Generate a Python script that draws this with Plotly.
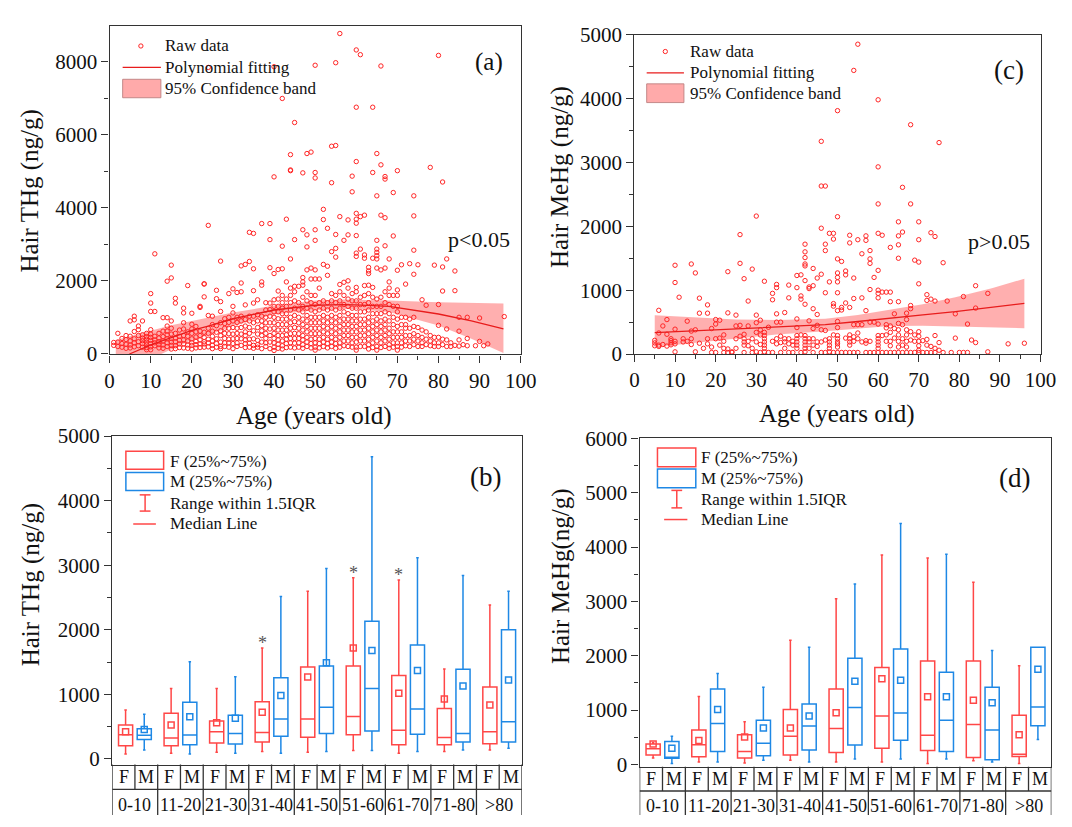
import plotly.graph_objects as go

FONT = "Liberation Serif, Times New Roman, serif"
W, H = 1072, 827

# ---------------------------------------------------------------- data
# hair THg (ng/g) of individual samples, grouped by age (years)
thg_raw = [
    (1, [310, 230]), (2, [560, 320, 200]), (3, [420, 280, 180]), (4, [500, 390, 260, 150]),
    (5, [900, 480, 350, 240, 160]), (6, [1030, 930, 610, 410, 300, 190]),
    (7, [760, 660, 500, 330, 220]), (8, [900, 520, 430, 360, 280, 180]),
    (9, [560, 470, 400, 320, 250, 170, 110]),
    (10, [1650, 1390, 1160, 660, 540, 450, 370, 280, 190, 110]),
    (11, [2740, 1160, 480, 380, 300, 220]), (12, [560, 430, 330, 250, 160]),
    (13, [990, 620, 470, 350, 240, 150]), (14, [1990, 990, 760, 620, 520, 410, 300, 200]),
    (15, [2430, 2080, 900, 700, 540, 420, 320, 230, 130]),
    (16, [1520, 1390, 560, 430, 330, 220, 140]), (17, [650, 480, 370, 270, 170]),
    (18, [1250, 1120, 850, 680, 500, 380, 270, 160]), (19, [1870, 600, 480, 350, 240, 150]),
    (20, [1110, 810, 680, 560, 410, 300, 230, 130]), (21, [750, 600, 460, 340, 250, 160]),
    (22, [1300, 1270, 620, 500, 380, 270, 170]),
    (23, [1920, 1910, 1560, 590, 450, 330, 270, 180]),
    (24, [7850, 3520, 1050, 700, 560, 400, 300, 190]),
    (25, [1030, 800, 620, 480, 350, 230, 140]), (26, [1740, 1510, 770, 590, 410, 280, 180]),
    (27, [2540, 1430, 1160, 850, 630, 500, 320, 200, 140]),
    (28, [960, 830, 700, 560, 420, 300, 200]), (29, [1650, 1000, 860, 700, 550, 400, 300, 180]),
    (30, [1780, 1300, 1120, 900, 720, 540, 410, 280, 140]),
    (31, [1680, 1000, 860, 700, 560, 420, 300, 200]),
    (32, [2410, 1940, 1700, 1030, 900, 720, 540, 410, 230]),
    (33, [2450, 1340, 940, 760, 600, 500, 380, 280, 170]),
    (34, [3330, 2530, 1030, 900, 720, 560, 400, 290, 180]),
    (35, [3300, 2330, 1730, 1390, 1030, 850, 630, 410, 230, 150]),
    (36, [1480, 1070, 900, 720, 540, 370, 250, 180]),
    (37, [3570, 1970, 1880, 1030, 900, 770, 630, 500, 320, 140]),
    (38, [1400, 1200, 1000, 850, 700, 560, 420, 300, 200]),
    (39, [3570, 3130, 2360, 1390, 1210, 1030, 850, 680, 500, 320, 140]),
    (40, [7870, 4850, 2200, 1480, 1300, 1150, 1000, 850, 700, 560, 420, 300, 180, 90]),
    (41, [2310, 1720, 1500, 1300, 1150, 960, 800, 650, 500, 380, 260, 150]),
    (42, [7000, 2950, 2330, 1600, 1400, 1250, 1100, 950, 800, 650, 500, 350, 220, 130]),
    (43, [3690, 1970, 1500, 1300, 1100, 950, 800, 650, 520, 400, 280, 170]),
    (44, [5460, 5040, 5020, 2600, 1800, 1600, 1400, 1200, 1000, 850, 700, 550, 420, 300, 180]),
    (45, [6340, 3130, 1850, 1700, 1450, 1250, 1050, 880, 720, 560, 420, 290, 160]),
    (46, [1850, 1400, 1200, 1000, 850, 700, 550, 420, 300, 180]),
    (47, [4960, 3400, 2090, 1970, 1880, 1550, 1300, 1150, 950, 800, 650, 500, 380, 250, 150]),
    (48, [5490, 3260, 2930, 2300, 1700, 1450, 1250, 1050, 900, 750, 600, 450, 320, 200]),
    (49, [5530, 2350, 2050, 1600, 1400, 1200, 1000, 850, 700, 550, 400, 280, 160]),
    (50, [7910, 4970, 4820, 3400, 3110, 2300, 2050, 1600, 1350, 1150, 1000, 850, 700, 550, 420,
          300, 180, 100]),
    (51, [2050, 1800, 1400, 1200, 1000, 850, 700, 550, 400, 280, 160]),
    (52, [3960, 3680, 2450, 1450, 1250, 1050, 900, 750, 600, 450, 320, 200]),
    (53, [3440, 2400, 2150, 1400, 1200, 1000, 850, 700, 550, 400, 280, 160]),
    (54, [5690, 4690, 2800, 1650, 1450, 1250, 1050, 900, 750, 600, 450, 320, 200]),
    (55, [7980, 5710, 3270, 2890, 2650, 1600, 1400, 1200, 1000, 850, 700, 550, 400, 280, 150]),
    (56, [8780, 3760, 1900, 1700, 1450, 1250, 1050, 900, 750, 600, 450, 300, 180]),
    (57, [3110, 1960, 1600, 1350, 1150, 950, 800, 650, 500, 350, 220]),
    (58, [3670, 3260, 2000, 1800, 1500, 1300, 1100, 950, 800, 650, 500, 350, 200]),
    (59, [4870, 4440, 1650, 1450, 1250, 1050, 900, 750, 600, 450, 300, 180]),
    (60, [8330, 6760, 5270, 3850, 3690, 3580, 3240, 2760, 2670, 1820, 1700, 1450, 1250, 1050,
          900, 750, 600, 450, 320, 180, 100]),
    (61, [8200, 3760, 2870, 1550, 1350, 1150, 950, 800, 650, 500, 350, 200]),
    (62, [3800, 2710, 2620, 1870, 1600, 1350, 1150, 950, 800, 650, 500, 350, 200]),
    (63, [2370, 2270, 2200, 1880, 1650, 1400, 1200, 1000, 850, 700, 550, 400, 250, 130]),
    (64, [6760, 4970, 2620, 1820, 1550, 1300, 1100, 900, 750, 600, 450, 300, 170]),
    (65, [5490, 4330, 3110, 2870, 2780, 2690, 2600, 2350, 1500, 1300, 1100, 950, 800, 650, 500,
          350, 200, 100]),
    (66, [7890, 5180, 3800, 2300, 1550, 1300, 1100, 900, 750, 600, 450, 300, 170]),
    (67, [4860, 4790, 3730, 2960, 2350, 1700, 1400, 1150, 950, 800, 650, 500, 350, 200]),
    (68, [2600, 1970, 1800, 1600, 1350, 1100, 900, 700, 550, 400, 250, 150]),
    (69, [4420, 3230, 1600, 1300, 1000, 800, 600, 450, 300, 180]),
    (70, [5020, 2290, 1750, 1600, 1300, 1150, 950, 750, 600, 450, 300, 200, 100]),
    (71, [2440, 1000, 800, 600, 450, 300, 180]), (72, [1910, 1000, 800, 700, 500, 350, 220]),
    (73, [2470, 950, 700, 500, 350, 200]),
    (74, [4330, 3780, 2840, 2180, 1000, 750, 550, 400, 250]),
    (75, [2440, 720, 500, 350, 200]), (76, [1480, 650, 450, 300, 200]),
    (77, [1330, 600, 400, 250]), (78, [5110, 500, 350, 220]), (79, [2430, 450, 300, 200]),
    (80, [8180, 1350, 780, 450, 300, 200]), (81, [4710, 2380, 1720, 400, 250]),
    (82, [2600, 680, 380, 200]), (83, [300, 200]), (84, [2270, 1730, 230]),
    (85, [1000, 620, 380, 210]), (86, [250]), (87, [1000, 420, 220]), (89, [220]),
    (90, [980, 340]), (91, [220]), (92, [270]), (96, [1020]),
]

# hair MeHg (ng/g) of individual samples, grouped by age (years)
mehg_raw = [
    (5, [215, 175, 130]), (6, [685, 330, 140, 120]), (7, [440, 150]), (8, [540, 310, 125]),
    (9, [240, 210, 175, 145]), (10, [1390, 1120, 390, 200, 160, 35]), (11, [4020, 890]),
    (12, [240, 190]), (13, [515, 200]), (14, [1410, 360, 240, 150]), (15, [1270, 380, 35]),
    (16, [875, 640, 170]), (17, [90]), (18, [770, 640, 240, 160]), (19, [400, 110, 25]),
    (20, [540, 470, 240, 25]), (21, [530, 250, 140]), (22, [300, 200, 90, 25]),
    (23, [1290, 645, 80, 25]), (24, [35, 25]), (25, [610, 440, 240, 90]),
    (26, [1870, 1420, 450, 280]), (27, [1180, 310, 240, 190, 140, 25]),
    (28, [830, 440, 200, 130]), (29, [1330, 240, 90, 25]),
    (30, [2160, 610, 490, 340, 190, 35]), (31, [530, 380, 300, 150, 25]),
    (32, [1140, 340, 290, 240, 190, 140, 90, 35]), (33, [420, 25]),
    (34, [950, 850, 200, 25]), (35, [1090, 1040, 630, 500, 240, 160]),
    (36, [500, 280, 180, 25]), (37, [650, 240, 190, 90]), (38, [1080, 880, 240, 160, 25]),
    (39, [200, 140, 25]), (40, [1230, 1040, 550, 415, 290, 240, 190, 140, 90]),
    (41, [1240, 910, 860, 300, 25]),
    (42, [1720, 1600, 1510, 1410, 1380, 1150, 780, 290, 240, 190, 140, 90, 35]),
    (43, [1050, 1025, 520, 240, 190, 90]), (44, [1340, 1070, 710, 400, 240, 140, 25]),
    (45, [1190, 620, 450, 190, 120]), (46, [3330, 2630, 1970, 1250, 380, 190, 25]),
    (47, [2630, 1720, 1620, 960, 370, 220, 25]), (48, [1890, 1130, 240, 190, 140, 90, 35]),
    (49, [1890, 1800, 790, 750, 300, 25]),
    (50, [3810, 2150, 1490, 1270, 1200, 1130, 960, 680, 510, 415, 290, 240, 190, 160, 110, 25]),
    (51, [1450, 730, 690, 25]), (52, [1300, 1240, 800, 250, 25]),
    (53, [1860, 1740, 730, 300, 240, 190, 140, 25]), (54, [4440, 1190, 870, 460, 270, 200, 25]),
    (55, [4850, 1790, 460, 330, 240, 25]), (56, [1570, 880, 460, 190]),
    (57, [1850, 1780, 680, 210, 170, 25]), (58, [1620, 1490, 1420, 1010, 500, 200, 25]),
    (59, [1200, 500, 25]),
    (60, [3980, 2930, 2350, 1890, 1310, 1000, 950, 880, 470, 290, 240, 190, 140, 90, 25]),
    (61, [1860, 970, 290, 25]), (62, [970, 460, 410, 300, 200, 25]),
    (63, [1670, 970, 820, 440, 340, 200, 130, 25]), (64, [630, 400, 250, 25]),
    (65, [2070, 1850, 1710, 1500, 820, 480, 380, 300, 200, 110, 25]),
    (66, [2610, 1910, 460, 240, 140, 25]), (67, [640, 540, 380, 300, 200, 110, 25]),
    (68, [3590, 2350, 760, 710, 350, 220, 25]), (69, [1470, 300, 200, 25]),
    (70, [2070, 1790, 1440, 1100, 350, 280, 200, 130, 60, 25]), (71, [210, 25]),
    (72, [930, 840, 230, 140, 25]), (73, [1900, 860, 120, 25]), (74, [1840, 830, 290, 90, 25]),
    (75, [3310, 180, 60]), (76, [1430, 25]), (77, [830]), (78, [25]), (79, [630, 250]),
    (80, [25]), (81, [900, 25]), (82, [470, 25]), (83, [220]), (84, [1070, 720, 180]),
    (87, [950, 35]), (92, [160]), (96, [170]),
]

# polynomial fit and 95% confidence band, THg vs age
thg_fit_age = [1.5, 5, 10, 15, 20, 24, 30, 40, 50, 57, 60, 68, 80, 88, 95.8]
thg_fit = [-250, 0, 245, 450, 640, 760, 960, 1200, 1330, 1345, 1343, 1300, 1090, 900, 685]
thg_ci_up = [376, 480, 641, 780, 900, 994, 1130, 1320, 1463, 1485, 1480, 1463, 1410, 1392, 1375]
thg_ci_lo = [-900, -480, -140, 120, 380, 510, 760, 1080, 1190, 1225, 1225, 1145, 775, 410, 20]

# polynomial fit and 95% confidence band, MeHg vs age
mehg_fit_age = [5, 15, 25, 35, 47, 55, 63, 71, 79, 88, 96]
mehg_fit = [335, 365, 400, 430, 460, 510, 567, 615, 663, 730, 795]
mehg_ci_up = [608, 570, 541, 535, 554, 610, 693, 780, 891, 1030, 1180]
mehg_ci_lo = [111, 175, 237, 305, 359, 405, 441, 445, 430, 418, 405]

age_groups = ["0-10", "11-20", "21-30", "31-40", "41-50", "51-60", "61-70", "71-80", ">80"]

# box statistics of hair THg (ng/g) by sex
thg_f_low = [75, 90, 105, 115, 105, 130, 90, 115, 140]
thg_f_q1 = [205, 205, 246, 261, 336, 376, 221, 221, 236]
thg_f_med = [376, 326, 421, 411, 617, 657, 446, 331, 421]
thg_f_q3 = [526, 707, 587, 887, 1424, 1439, 1293, 782, 1113]
thg_f_high = [757, 1093, 1093, 1719, 2597, 2807, 2772, 1394, 2386]
thg_f_mean = [421, 526, 561, 722, 1268, 1719, 1018, 927, 837]
thg_m_low = [140, 75, 90, 90, 115, 130, 115, 140, 165]
thg_m_q1 = [301, 221, 231, 351, 396, 431, 381, 261, 261]
thg_m_med = [366, 371, 396, 617, 802, 1093, 772, 396, 577]
thg_m_q3 = [466, 877, 677, 1258, 1439, 2131, 1765, 1389, 2000]
thg_m_high = [692, 1504, 1273, 2516, 2948, 4680, 3118, 2842, 2597]
thg_m_mean = [456, 652, 632, 983, 1489, 1679, 1369, 1128, 1223]
thg_sig_groups = ["31-40", "51-60", "61-70"]

# box statistics of hair MeHg (ng/g) by sex
mehg_f_low = [119, 48, 30, 77, 48, 48, 18, 71, 18]
mehg_f_q1 = [173, 143, 119, 173, 220, 298, 256, 131, 149]
mehg_f_med = [290, 363, 238, 518, 661, 893, 536, 738, 190]
mehg_f_q3 = [375, 637, 548, 1012, 1387, 1786, 1905, 1905, 905]
mehg_f_high = [405, 1250, 786, 2286, 3048, 3851, 3797, 3351, 1815]
mehg_f_mean = [375, 440, 506, 673, 952, 1577, 1244, 1184, 548]
mehg_m_low = [18, 48, 77, 48, 101, 101, 101, 48, 458]
mehg_m_q1 = [113, 238, 161, 268, 357, 446, 238, 89, 714]
mehg_m_med = [131, 756, 393, 708, 1048, 946, 815, 637, 1059]
mehg_m_q3 = [423, 1387, 815, 1113, 1952, 2125, 1696, 1423, 2155]
mehg_m_high = [518, 1673, 1423, 2155, 3321, 4434, 3869, 2095, 2155]
mehg_m_mean = [298, 1012, 673, 893, 1530, 1548, 1244, 1137, 1750]

# ---------------------------------------------------------------- style
PT_RED = "#ff2525"
LINE_RED = "#e81c1c"
BAND = "rgba(255,110,110,0.55)"
F_COL = "#ff4747"
M_COL = "#1e88e5"
AX = "#333333"
TXT = "#111111"


def px(x):
    return x / W


def py(y):
    return 1 - y / H


def flatten(raw):
    xs = [a for a, vals in raw for _ in vals]
    ys = [v for _, vals in raw for v in vals]
    return xs, ys


thg_age, thg_val = flatten(thg_raw)
mehg_age, mehg_val = flatten(mehg_raw)

fig = go.Figure()


def scatter_panel(xa, ya, ages, vals, fit_age, fit, lo, up):
    fig.add_trace(go.Scatter(x=fit_age, y=lo, mode="lines", line=dict(width=0, color=BAND),
                             xaxis=xa, yaxis=ya, hoverinfo="skip"))
    fig.add_trace(go.Scatter(x=fit_age, y=up, mode="lines", line=dict(width=0, color=BAND),
                             fill="tonexty", fillcolor=BAND, xaxis=xa, yaxis=ya,
                             hoverinfo="skip"))
    fig.add_trace(go.Scatter(x=ages, y=vals, mode="markers", xaxis=xa, yaxis=ya,
                             marker=dict(symbol="circle-open", size=4.4, color=PT_RED,
                                         line=dict(width=1, color=PT_RED))))
    fig.add_trace(go.Scatter(x=fit_age, y=fit, mode="lines", xaxis=xa, yaxis=ya,
                             line=dict(color=LINE_RED, width=1.3)))


scatter_panel("x", "y", thg_age, thg_val, thg_fit_age, thg_fit, thg_ci_lo, thg_ci_up)
scatter_panel("x2", "y2", mehg_age, mehg_val, mehg_fit_age, mehg_fit, mehg_ci_lo, mehg_ci_up)

OFF = 0.205
pos_f = [i - OFF for i in range(len(age_groups))]
pos_m = [i + OFF for i in range(len(age_groups))]


def box_panel(xa, ya, pos, low, q1, med, q3, high, mean, color):
    fig.add_trace(go.Box(x=pos, q1=q1, median=med, q3=q3, lowerfence=low, upperfence=high,
                         width=0.31, whiskerwidth=0.18, boxpoints=False,
                         line=dict(color=color, width=1.5), fillcolor="rgba(0,0,0,0)",
                         xaxis=xa, yaxis=ya, hoverinfo="skip"))
    fig.add_trace(go.Scatter(x=pos, y=mean, mode="markers", xaxis=xa, yaxis=ya,
                             marker=dict(symbol="square-open", size=6, color=color,
                                         line=dict(width=1.5, color=color))))


box_panel("x3", "y3", pos_f, thg_f_low, thg_f_q1, thg_f_med, thg_f_q3, thg_f_high, thg_f_mean, F_COL)
box_panel("x3", "y3", pos_m, thg_m_low, thg_m_q1, thg_m_med, thg_m_q3, thg_m_high, thg_m_mean, M_COL)
box_panel("x4", "y4", pos_f, mehg_f_low, mehg_f_q1, mehg_f_med, mehg_f_q3, mehg_f_high, mehg_f_mean, F_COL)
box_panel("x4", "y4", pos_m, mehg_m_low, mehg_m_q1, mehg_m_med, mehg_m_q3, mehg_m_high, mehg_m_mean, M_COL)

# ---------------------------------------------------------------- axes
tickfont = dict(family=FONT, size=21, color=TXT)
base = dict(showline=True, linecolor=AX, linewidth=1.3, mirror=True, showgrid=False,
            zeroline=False, ticks="outside", ticklen=7, tickwidth=1.3, tickcolor=AX,
            tickfont=tickfont)
minor_ticks = dict(ticks="outside", ticklen=4, tickwidth=1.3, tickcolor=AX, showgrid=False)


def age_axis(domain, anchor):
    return dict(base, domain=domain, anchor=anchor, range=[0, 100], tick0=0, dtick=10,
                minor=dict(minor_ticks, dtick=5))


def val_axis(domain, anchor, rng, dtick, minor):
    return dict(base, domain=domain, anchor=anchor, range=rng, tick0=0, dtick=dtick,
                minor=dict(minor_ticks, dtick=minor))


def group_axis(domain, anchor):
    return dict(showline=True, linecolor=AX, linewidth=1.3, mirror=True, showgrid=False,
                zeroline=False, ticks="", showticklabels=False, domain=domain, anchor=anchor,
                range=[-0.5, len(age_groups) - 0.5])


fig.update_layout(
    width=W, height=H, autosize=False, margin=dict(l=0, r=0, t=0, b=0),
    paper_bgcolor="white", plot_bgcolor="white", showlegend=False,
    font=dict(family=FONT, color=TXT),
    xaxis=age_axis([px(106.7), px(526)], "y"),
    yaxis=val_axis([py(352.7), py(14.7)], "x", [-19, 8979], 2000, 1000),
    xaxis2=age_axis([px(642), px(1056.3)], "y2"),
    yaxis2=val_axis([py(352.3), py(23.3)], "x2", [0, 5000], 1000, 500),
    xaxis3=group_axis([px(109.3), px(527.3)], "y3"),
    yaxis3=val_axis([py(775), py(436.8)], "x3", [-86, 5000], 1000, 500),
    xaxis4=group_axis([px(647.3), px(1067.3)], "y4"),
    yaxis4=val_axis([py(777.3), py(439)], "x4", [-41, 6000], 1000, 500),
)

# ---------------------------------------------------------------- text
ann = []
shapes = []


def text(x, y, s, size, anchor="center", angle=0, color=TXT):
    ann.append(dict(x=px(x), y=py(y), xref="paper", yref="paper", text=s, showarrow=False,
                    xanchor=anchor, yanchor="middle", textangle=angle,
                    font=dict(family=FONT, size=size, color=color)))


def rect(x0, y0, x1, y1, line, fill="rgba(0,0,0,0)", lw=1.5):
    shapes.append(dict(type="rect", xref="paper", yref="paper", x0=px(x0), x1=px(x1),
                       y0=py(y1), y1=py(y0), line=dict(color=line, width=lw), fillcolor=fill))


def seg(x0, y0, x1, y1, color, lw=1.5):
    shapes.append(dict(type="line", xref="paper", yref="paper", x0=px(x0), x1=px(x1),
                       y0=py(y0), y1=py(y1), line=dict(color=color, width=lw)))


# axis titles
text(25.4, 184, "Hair THg (ng/g)", 25, angle=-90)
text(315, 416, "Age (years old)", 25)
text(566, 170, "Hair MeHg (ng/g)", 25, angle=-90)
text(849, 414, "Age (years old)", 25)
text(26, 590, "Hair THg (ng/g)", 25, angle=-90)
text(567, 581, "Hair MeHg(ng/g)", 25, angle=-90)

# panel letters and significance
text(493.5, 51, "(a)", 25)
text(1024.4, 59.5, "(c)", 27)
text(490, 478.5, "(b)", 27)
text(1029.7, 480, "(d)", 27)
text(483, 234, "p&lt;0.05", 22)
text(1014, 236, "p&gt;0.05", 22)

# legends of the scatter panels
for (mx, lx0, lx1, tx, y1, y2, y3, b0, b1) in [
    (138.6, 120, 159, 161.6, 35, 57, 79, 69.3, 88.3),
    (673.5, 654.5, 692.5, 697, 40.7, 62.7, 84, 74, 93.3),
]:
    shapes.append(dict(type="circle", xref="paper", yref="paper", x0=px(mx - 2.2),
                       x1=px(mx + 2.2), y0=py(y1 + 2.2), y1=py(y1 - 2.2),
                       line=dict(color=PT_RED, width=1)))
    seg(lx0, y2, lx1, y2, LINE_RED, 1.3)
    rect(lx0, b0, lx1, b1, "rgba(190,130,130,0.9)", fill="rgba(255,170,170,1)", lw=1)
    text(tx, y1, "Raw data", 17, anchor="left")
    text(tx, y2, "Polynomial fitting", 17, anchor="left")
    text(tx, y3, "95% Confidence band", 17, anchor="left")

# legends of the box panels
for (r0, r1, tx, yf, ym, yr, yl, fy, my, gx, gy0, gy1, ml0, ml1) in [
    (123.3, 161.8, 166.3, 462.7, 483.3, 506, 527.3, (452.3, 471), (474.3, 492.7),
     142.9, 497.3, 514, 130.8, 153.9),
    (665.5, 704.6, 708, 459.3, 480, 501.7, 522.7, (449, 468.3), (470.7, 490),
     685.2, 492.7, 510.7, 672.3, 696),
]:
    rect(r0, fy[0], r1, fy[1], F_COL)
    rect(r0, my[0], r1, my[1], M_COL)
    seg(gx, gy0, gx, gy1, F_COL)
    seg(gx - 5.5, gy0, gx + 5.5, gy0, F_COL)
    seg(gx - 5.5, gy1, gx + 5.5, gy1, F_COL)
    seg(ml0, yl, ml1, yl, F_COL)
    text(tx, yf, "F (25%~75%)", 17, anchor="left")
    text(tx, ym, "M (25%~75%)", 17, anchor="left")
    text(tx, yr, "Range within 1.5IQR", 17, anchor="left")
    text(tx, yl, "Median Line", 17, anchor="left")

# significance marks above female whiskers
for g in thg_sig_groups:
    i = age_groups.index(g)
    ann.append(dict(x=pos_f[i], y=thg_f_high[i], xref="x3", yref="y3", text="*",
                    showarrow=False, yshift=5, xanchor="center", yanchor="middle",
                    font=dict(family=FONT, size=18, color="#555555")))

# category tables under the box panels
n = len(age_groups)
for xa, top, mid, y_fm, y_grp in [("x3", 775, 800.7, 788.3, 816.7),
                                  ("x4", 777.3, 802.3, 790, 817.3)]:
    shapes.append(dict(type="line", xref=xa, yref="paper", x0=-0.5, x1=n - 0.5,
                       y0=py(mid), y1=py(mid), line=dict(color=AX, width=1.3)))
    for k in range(2 * n + 1):
        xk = -0.5 + 0.5 * k
        shapes.append(dict(type="line", xref=xa, yref="paper", x0=xk, x1=xk,
                           y0=py(top), y1=py(mid), line=dict(color=AX, width=1.3)))
    for k in range(n + 1):
        xk = -0.5 + k
        shapes.append(dict(type="line", xref=xa, yref="paper", x0=xk, x1=xk,
                           y0=py(mid), y1=0, line=dict(color=AX, width=1.3)))
    for i, g in enumerate(age_groups):
        for s, dx in (("F", -0.25), ("M", 0.25)):
            ann.append(dict(x=i + dx, y=py(y_fm), xref=xa, yref="paper", text=s,
                            showarrow=False, xanchor="center", yanchor="middle",
                            font=dict(family=FONT, size=18, color=TXT)))
        ann.append(dict(x=i, y=py(y_grp), xref=xa, yref="paper", text=g.replace(">", "&gt;"),
                        showarrow=False, xanchor="center", yanchor="middle",
                        font=dict(family=FONT, size=18, color=TXT)))

fig.update_layout(annotations=ann, shapes=shapes)
fig.write_html("out.html")
